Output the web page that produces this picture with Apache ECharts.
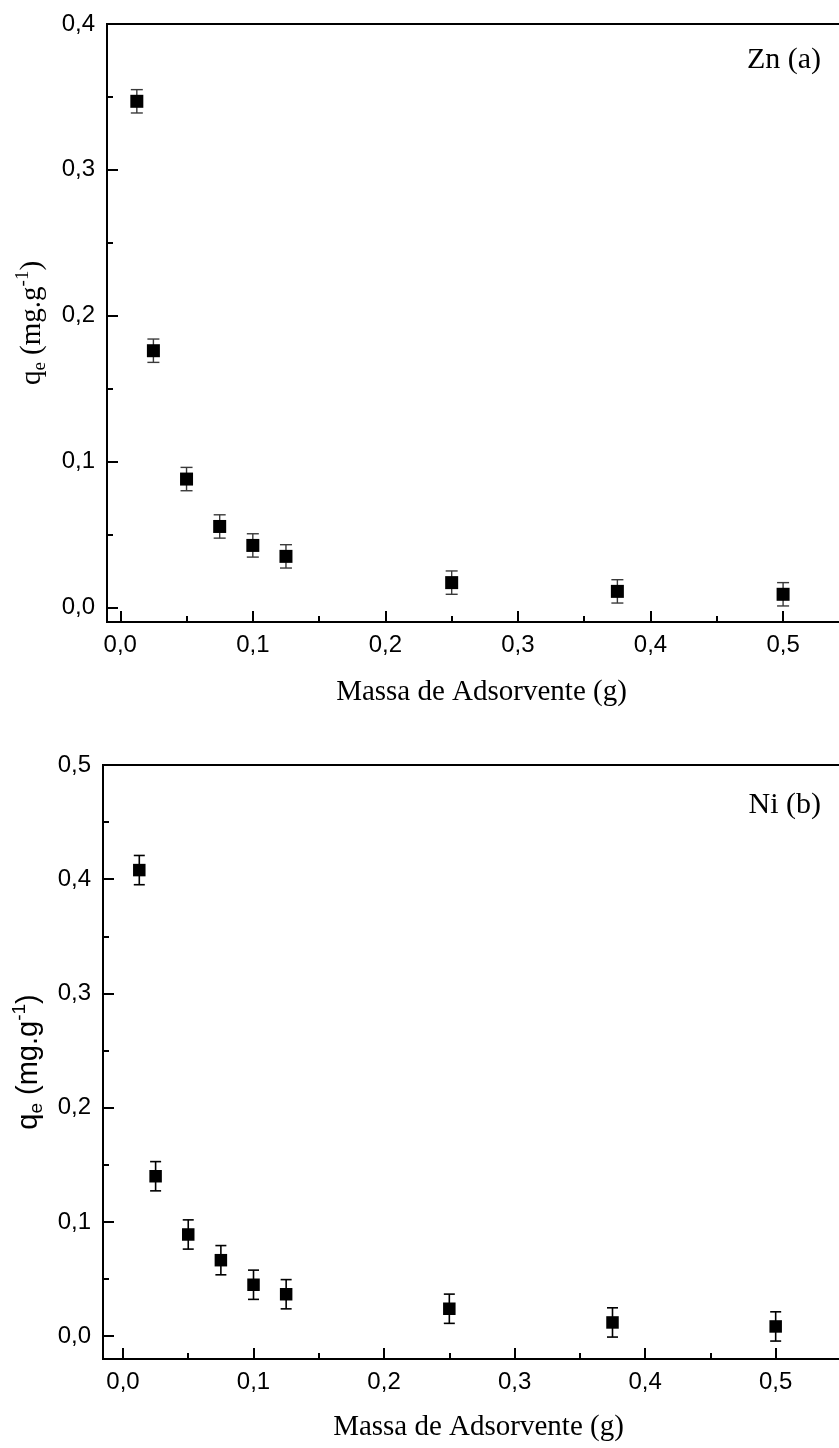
<!DOCTYPE html>
<html><head><meta charset="utf-8">
<script src="https://cdn.jsdelivr.net/npm/echarts@6/dist/echarts.min.js"></script>
<style>html,body{margin:0;padding:0;background:#fff}#c{width:839px;height:1448px}</style>
</head><body><div id="c"></div>
<script>
// ---- data ----
const massZn = [0.0125, 0.025, 0.05, 0.075, 0.1, 0.125, 0.25, 0.375, 0.5];
const qeZn   = [0.347, 0.176, 0.088, 0.0555, 0.0425, 0.035, 0.017, 0.011, 0.009];
const errZn  = [0.008, 0.008, 0.008, 0.008, 0.008, 0.008, 0.008, 0.008, 0.008];
const massNi = [0.0125, 0.025, 0.05, 0.075, 0.1, 0.125, 0.25, 0.375, 0.5];
const qeNi   = [0.408, 0.14, 0.089, 0.0665, 0.045, 0.0367, 0.024, 0.012, 0.0085];
const errNi  = [0.0128, 0.0128, 0.0128, 0.0128, 0.0128, 0.0128, 0.0128, 0.0128, 0.0128];
const xTicks = [0, 0.1, 0.2, 0.3, 0.4, 0.5];
const xMinor = [0.05, 0.15, 0.25, 0.35, 0.45];
const yTicksZn = [0, 0.1, 0.2, 0.3, 0.4];
const yMinorZn = [0.05, 0.15, 0.25, 0.35];
const yTicksNi = [0, 0.1, 0.2, 0.3, 0.4, 0.5];
const yMinorNi = [0.05, 0.15, 0.25, 0.35, 0.45];
const xTitle = 'Massa de Adsorvente (g)';
const labelZn = 'Zn (a)';
const labelNi = 'Ni (b)';

const SANS = 'Liberation Sans, Arial, sans-serif';
const SERIF = 'Liberation Serif, Times New Roman, serif';
const fmt = v => v.toFixed(1).replace('.', ',');

const grids = [
  {left: 107, top: 24, width: 749, height: 598},
  {left: 103, top: 765, width: 751, height: 594}
];
const ranges = [
  {xmin: -0.01, xmax: 0.555, ymin: -0.01, ymax: 0.4, yt: yTicksZn, ym: yMinorZn},
  {xmin: -0.0153, xmax: 0.56, ymin: -0.02, ymax: 0.5, yt: yTicksNi, ym: yMinorNi}
];

const gridOpts = [];
grids.forEach(g => gridOpts.push(Object.assign({show: true, borderColor: '#000', borderWidth: 2, backgroundColor: '#fff', containLabel: false, outerBoundsMode: 'none'}, g)));
grids.forEach(g => gridOpts.push(Object.assign({show: false, containLabel: false, outerBoundsMode: 'none'}, g)));

function yName(serif) {
  const fam = serif ? SERIF : SANS;
  const fs = serif ? 29 : 29;
  return {
    name: '{b|q}{sub|e}{b| (mg.g}{sup|-1}{b|)}',
    style: {
      rich: {
        b: {fontFamily: fam, fontSize: fs, color: '#000', lineHeight: 36},
        sub: {fontFamily: fam, fontSize: Math.round(fs * 0.65), color: '#000', lineHeight: 14, verticalAlign: 'bottom'},
        sup: {fontFamily: fam, fontSize: Math.round(fs * 0.65), color: '#000', lineHeight: 14, verticalAlign: 'top'}
      }
    }
  };
}

const xAxes = [], yAxes = [];
[0, 1].forEach(i => {
  const r = ranges[i];
  xAxes.push({
    type: 'value', gridIndex: i, min: r.xmin, max: r.xmax, position: 'bottom',
    axisLine: {show: true, onZero: false, lineStyle: {color: '#000', width: 2}},
    axisTick: {show: true, inside: true, length: 11, customValues: xTicks, lineStyle: {color: '#000', width: 2}},
    axisLabel: {customValues: xTicks, formatter: fmt, fontFamily: SANS, fontSize: 24, color: '#000', margin: 11},
    splitLine: {show: false},
    name: xTitle, nameLocation: 'middle', nameGap: i === 0 ? 56 : 54,
    nameTextStyle: {fontFamily: SERIF, fontSize: 29, color: '#000'}
  });
  const yn = yName(i === 0);
  yAxes.push({
    type: 'value', gridIndex: i, min: r.ymin, max: r.ymax, position: 'left',
    axisLine: {show: true, onZero: false, lineStyle: {color: '#000', width: 2}},
    axisTick: {show: true, inside: true, length: 11, customValues: r.yt, lineStyle: {color: '#000', width: 2}},
    axisLabel: {customValues: r.yt, formatter: fmt, fontFamily: SANS, fontSize: 24, color: '#000', margin: 12},
    splitLine: {show: false},
    name: yn.name, nameLocation: 'middle', nameGap: i === 0 ? 57 : 53,
    nameTextStyle: yn.style
  });
});
[0, 1].forEach(i => {
  const r = ranges[i];
  xAxes.push({
    type: 'value', gridIndex: i + 2, min: r.xmin, max: r.xmax, position: 'bottom',
    axisLine: {show: false, onZero: false},
    axisTick: {show: true, inside: true, length: 6, customValues: xMinor, lineStyle: {color: '#000', width: 2}},
    axisLabel: {show: false}, splitLine: {show: false}
  });
  yAxes.push({
    type: 'value', gridIndex: i + 2, min: r.ymin, max: r.ymax, position: 'left',
    axisLine: {show: false, onZero: false},
    axisTick: {show: true, inside: true, length: 6, customValues: r.ym, lineStyle: {color: '#000', width: 2}},
    axisLabel: {show: false}, splitLine: {show: false}
  });
});

function errSeries(idx, mass, qe, err, color, lw, hw) {
  return {
    type: 'custom', xAxisIndex: idx, yAxisIndex: idx, z: 2, silent: true,
    data: mass.map((m, i) => [m, qe[i], err[i]]),
    renderItem: function (params, api) {
      const x = api.value(0), y = api.value(1), e = api.value(2);
      const t = api.coord([x, y + e]), b = api.coord([x, y - e]);
      const st = {stroke: color, lineWidth: lw};
      return {type: 'group', children: [
        {type: 'line', shape: {x1: t[0], y1: t[1], x2: b[0], y2: b[1]}, style: st},
        {type: 'line', shape: {x1: t[0] - hw, y1: t[1], x2: t[0] + hw, y2: t[1]}, style: st},
        {type: 'line', shape: {x1: b[0] - hw, y1: b[1], x2: b[0] + hw, y2: b[1]}, style: st}
      ]};
    }
  };
}
function ptSeries(idx, mass, qe, size) {
  return {
    type: 'scatter', xAxisIndex: idx, yAxisIndex: idx, z: 3, silent: true,
    symbol: 'rect', symbolSize: size,
    itemStyle: {color: '#000', opacity: 1},
    data: mass.map((m, i) => [m, qe[i]])
  };
}

const chart = echarts.init(document.getElementById('c'), null, {renderer: 'canvas'});
chart.setOption({
  animation: false,
  backgroundColor: '#fff',
  grid: gridOpts,
  xAxis: xAxes,
  yAxis: yAxes,
  series: [
    errSeries(0, massZn, qeZn, errZn, '#3a3a3a', 1.4, 6),
    ptSeries(0, massZn, qeZn, 13),
    errSeries(1, massNi, qeNi, errNi, '#000', 1.6, 5.5),
    ptSeries(1, massNi, qeNi, 12.5)
  ],
  graphic: [
    {type: 'text', x: 821, y: 60, z: 10, style: {text: labelZn, align: 'right', verticalAlign: 'middle', fontFamily: SERIF, fontSize: 30, fill: '#000'}},
    {type: 'text', x: 821, y: 805, z: 10, style: {text: labelNi, align: 'right', verticalAlign: 'middle', fontFamily: SERIF, fontSize: 30, fill: '#000'}}
  ]
});
</script>
</body></html>
